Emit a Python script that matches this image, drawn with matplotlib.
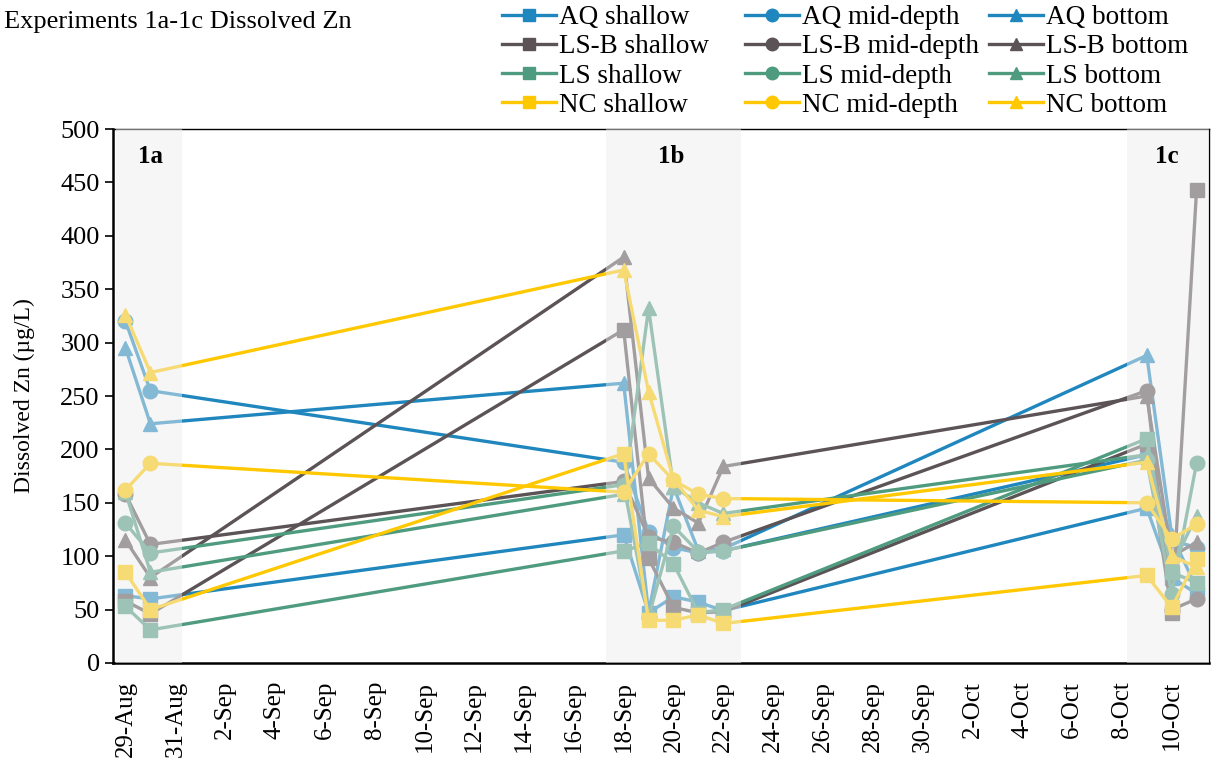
import matplotlib
matplotlib.use("Agg")
import matplotlib.pyplot as plt
from matplotlib.lines import Line2D

plt.rcParams['font.family'] = ['Liberation Serif', 'DejaVu Serif']

# sampling days, counted from 29-Aug (1a: 29-30 Aug, 1b: 18-22 Sep, 1c: 9-11 Oct)
days = [0, 1, 20, 21, 22, 23, 24, 41, 42, 43]

# dissolved Zn (ug/L) per site and depth
aq_shallow = [63, 60, 120, 47, 62, 57, 49, 145, 80, 65]
aq_mid = [320, 255, 188, 123, 108, 103, 105, 195, 115, 108]
aq_bottom = [295, 224, 262, 47, 165, 105, 107, 288, 120, 70]

lsb_shallow = [58, 46, 312, 98, 52, 47, 48, 205, 47, 443]
lsb_mid = [158, 111, 170, 118, 113, 103, 113, 255, 50, 60]
lsb_bottom = [115, 80, 380, 173, 145, 131, 184, 250, 100, 113]

ls_shallow = [53, 31, 105, 112, 93, 47, 50, 210, 85, 75]
ls_mid = [131, 103, 167, 43, 128, 104, 105, 190, 65, 187]
ls_bottom = [160, 85, 158, 332, 165, 150, 140, 195, 90, 138]

nc_shallow = [85, 50, 196, 40, 40, 45, 37, 82, 52, 97]
nc_mid = [162, 187, 160, 196, 171, 158, 154, 150, 116, 130]
nc_bottom = [326, 272, 368, 254, 172, 143, 137, 188, 100, 90]

sites = ['AQ', 'LS-B', 'LS', 'NC']
depths = ['shallow', 'mid-depth', 'bottom']
colors = {'AQ': '#1f87be', 'LS-B': '#5b5356', 'LS': '#4f9b7f', 'NC': '#ffc800'}
markers = {'shallow': 's', 'mid-depth': 'o', 'bottom': '^'}
series = {
    'AQ': [aq_shallow, aq_mid, aq_bottom],
    'LS-B': [lsb_shallow, lsb_mid, lsb_bottom],
    'LS': [ls_shallow, ls_mid, ls_bottom],
    'NC': [nc_shallow, nc_mid, nc_bottom],
}

# experiment windows (in days) and where their labels sit
windows = [(-0.4, 2.25), (19.3, 24.7), (40.2, 43.5)]
window_names = ['1a', '1b', '1c']
name_days = [1.0, 21.9, 41.8]

tick_days = list(range(0, 43, 2))
tick_labels = ['29-Aug', '31-Aug', '2-Sep', '4-Sep', '6-Sep', '8-Sep', '10-Sep',
               '12-Sep', '14-Sep', '16-Sep', '18-Sep', '20-Sep', '22-Sep',
               '24-Sep', '26-Sep', '28-Sep', '30-Sep', '2-Oct', '4-Oct',
               '6-Oct', '8-Oct', '10-Oct']

fig = plt.figure(figsize=(12.14, 7.67), dpi=100)
ax = fig.add_axes([0.0931, 0.1356, 0.9028, 0.6962])

handles = {}
for site in sites:
    for depth, vals in zip(depths, series[site]):
        ln, = ax.plot(days, vals, color=colors[site], marker=markers[depth],
                      markersize=10.5, linewidth=2.4, zorder=2,
                      label=f'{site} {depth}')
        handles[(site, depth)] = ln

# translucent panels wash out the lines inside each experiment window
for (x0, x1), name, xd in zip(windows, window_names, name_days):
    ax.axvspan(x0, x1, color='#eeeeee', alpha=0.49, linewidth=0, zorder=3)
    ax.text(xd, 474, name, ha='center', va='center', fontsize=18,
            fontweight='bold', zorder=4)

ax.set_xlim(-0.5, 43.5)
ax.set_ylim(0, 500)
ax.set_yticks(range(0, 501, 50))
ax.set_xticks(tick_days)
ax.set_xticklabels(tick_labels, rotation=90)
ax.tick_params(axis='y', labelsize=19, direction='out', length=6, width=1.2)
ax.tick_params(axis='x', labelsize=18, length=0, pad=13)
for side in ['top', 'right']:
    ax.spines[side].set_linewidth(1.0)
for side in ['left', 'bottom']:
    ax.spines[side].set_linewidth(1.8)
ax.set_ylabel('Dissolved Zn (µg/L)', fontsize=17, labelpad=18)

fig.text(0.003, 0.971, 'Experiments 1a-1c Dissolved Zn', fontsize=19,
         ha='left', va='center')

# one legend column per depth, evenly spaced along the top
col_x = [0.409, 0.609, 0.810]
for depth, x in zip(depths, col_x):
    col = [handles[(s, depth)] for s in sites]
    leg = fig.legend(
        [Line2D([], [], color=h.get_color(), marker=h.get_marker(),
                markersize=9, linewidth=2.4) for h in col],
        [h.get_label() for h in col],
        loc='upper left', bbox_to_anchor=(x, 1.0), frameon=False,
        fontsize=19.5, handlelength=2.0, handletextpad=0.1,
        labelspacing=0.15, borderpad=0.2, borderaxespad=0)

fig.savefig('out.png', dpi=100)
